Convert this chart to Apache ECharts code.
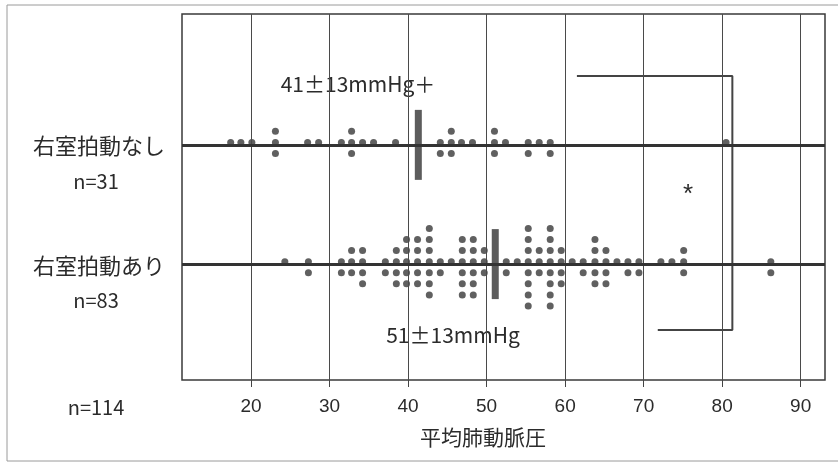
<!DOCTYPE html>
<html>
<head>
<meta charset="utf-8">
<script src="https://cdn.jsdelivr.net/npm/echarts@6/dist/echarts.min.js"></script>
<style>html,body{margin:0;padding:0;background:#fff;}#c{width:838px;height:463px;}</style>
</head>
<body>
<div id="c"></div>
<script>
// ---- data ----
const rowLabels = ['右室拍動なし', '右室拍動あり'];
const rowCounts = ['n=31', 'n=83'];
const totalLabel = 'n=114';
const axisTitle = '平均肺動脈圧';
const tickValues = [20, 30, 40, 50, 60, 70, 80, 90];
// 右室拍動なし: value columns and number of patients at each
const noBeatValues = [17.4, 18.7, 20.1, 23.1, 27.2, 28.6, 31.5, 32.8, 34.2, 35.6, 38.4, 44.1, 45.5, 46.8, 48.2, 51.0, 52.4, 55.3, 56.7, 58.1, 80.5];
const noBeatCounts = [1, 1, 1, 3, 1, 1, 1, 3, 1, 1, 1, 2, 3, 1, 1, 3, 1, 2, 1, 2, 1];
// 右室拍動あり
const beatValues = [24.3, 27.3, 31.5, 32.8, 34.2, 37.1, 38.5, 39.8, 41.2, 42.7, 44.1, 45.5, 46.9, 48.3, 49.7, 52.5, 53.9, 55.3, 56.7, 58.1, 59.5, 60.9, 62.3, 63.8, 65.2, 66.6, 68.0, 69.4, 72.2, 73.6, 75.1, 86.2];
const beatCounts = [1, 2, 2, 3, 4, 2, 4, 5, 5, 7, 2, 1, 6, 6, 3, 2, 1, 8, 3, 8, 4, 1, 2, 5, 4, 1, 2, 2, 1, 1, 3, 2];
const means = [41.3, 51.1];
const meanLabels = ['41±13mmHg＋', '51±13mmHg'];
const sigLabel = '*';
// bracket between groups (x in mmHg, y in dot-row units)
const bracketX = [61.5, 81.3, 81.3, 71.8];

// ---- layout ----
const Y_MAX = 33;            // dot-row units
const lineY = [21.2, 10.45]; // row baseline line positions
const dotLift = 0.22;
const stackOrder = [0, -1, 1, -2, 2, -3, 3, -4, 4, -5, 5];

function buildDots(values, counts, base) {
  const out = [];
  values.forEach((v, i) => {
    for (let k = 0; k < counts[i]; k++) out.push([v, base + dotLift + stackOrder[k]]);
  });
  return out;
}
const dots = buildDots(noBeatValues, noBeatCounts, lineY[0]).concat(buildDots(beatValues, beatCounts, lineY[1]));
const bracketY = [27.4, 27.4, 4.5, 4.5];

const chart = echarts.init(document.getElementById('c'), null, {renderer: 'canvas'});
const jp = '"Noto Sans CJK JP", "Noto Sans", sans-serif';
const txt = '#2b2b2b';

chart.setOption({
  animation: false,
  backgroundColor: '#fff',
  grid: {left: 182, right: 13, top: 14, bottom: 83, show: true, borderColor: '#3a3a3a', borderWidth: 1.5, backgroundColor: 'transparent'},
  xAxis: {
    type: 'value', min: 11.2, max: 93.1,
    axisLine: {show: false},
    axisTick: {show: true, customValues: tickValues, length: 7, lineStyle: {color: '#444', width: 1}},
    axisLabel: {customValues: tickValues, margin: 17, fontSize: 19, color: txt, fontFamily: '"Liberation Sans", Arial, sans-serif'},
    splitLine: {show: false}
  },
  yAxis: {type: 'value', min: 0, max: Y_MAX, show: false, splitLine: {show: false}},
  graphic: [
    {type: 'rect', shape: {x: 7, y: 5, width: 840, height: 456}, style: {fill: 'none', stroke: '#9a9a9a', lineWidth: 1}, z: 0},
    {type: 'text', x: 99, y: 146, style: {text: rowLabels[0], font: '22px ' + jp, fill: txt, align: 'center', verticalAlign: 'middle'}},
    {type: 'text', x: 96, y: 181, style: {text: rowCounts[0], font: '20px ' + jp, fill: txt, align: 'center', verticalAlign: 'middle'}},
    {type: 'text', x: 99, y: 266, style: {text: rowLabels[1], font: '22px ' + jp, fill: txt, align: 'center', verticalAlign: 'middle'}},
    {type: 'text', x: 96, y: 300, style: {text: rowCounts[1], font: '20px ' + jp, fill: txt, align: 'center', verticalAlign: 'middle'}},
    {type: 'text', x: 96, y: 407, style: {text: totalLabel, font: '20px ' + jp, fill: txt, align: 'center', verticalAlign: 'middle'}},
    {type: 'text', x: 483, y: 437, style: {text: axisTitle, font: '21px ' + jp, fill: txt, align: 'center', verticalAlign: 'middle'}},
    {type: 'text', x: 358, y: 84, style: {text: meanLabels[0], font: '21px ' + jp, fill: txt, align: 'center', verticalAlign: 'middle'}},
    {type: 'text', x: 453, y: 335, style: {text: meanLabels[1], font: '21px ' + jp, fill: txt, align: 'center', verticalAlign: 'middle'}},
    {type: 'text', x: 688, y: 195, style: {text: sigLabel, font: '26px "Liberation Sans", Arial, sans-serif', fill: txt, align: 'center', verticalAlign: 'middle'}}
  ],
  series: [
    {
      type: 'line', data: [], silent: true, z: 1,
      markLine: {silent: true, symbol: 'none', label: {show: false}, lineStyle: {color: '#4a4a4a', width: 1, type: 'solid'},
        data: tickValues.map(v => ({xAxis: v}))}
    },
    {
      type: 'scatter', data: dots, symbol: 'circle', symbolSize: 7, z: 3,
      itemStyle: {color: '#383838'},
      markLine: {silent: true, symbol: 'none', label: {show: false}, lineStyle: {color: '#333', width: 3, type: 'solid'},
        data: lineY.map(v => ({yAxis: v}))}
    },
    {
      type: 'scatter', data: means.map((m, i) => [m, lineY[i]]), symbol: 'rect', symbolSize: [7, 70], z: 4,
      itemStyle: {color: '#333'}
    },
    {
      type: 'line', data: bracketX.map((x, i) => [x, bracketY[i]]), symbol: 'none', z: 2,
      lineStyle: {color: '#444', width: 2}
    }
  ]
});
</script>
</body>
</html>
